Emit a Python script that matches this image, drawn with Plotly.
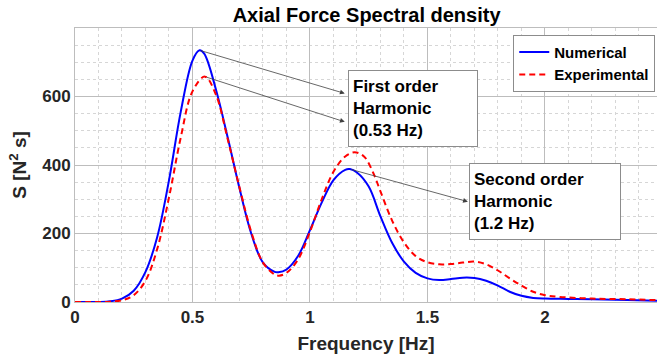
import plotly.graph_objects as go

# Numerical spectrum (blue)
freq_num = [0.00, 0.05, 0.10, 0.15, 0.20, 0.25, 0.30, 0.35, 0.40, 0.45, 0.50, 0.53,
            0.55, 0.60, 0.65, 0.70, 0.75, 0.80, 0.85, 0.865, 0.90, 0.95, 1.00, 1.05,
            1.10, 1.15, 1.17, 1.20, 1.25, 1.30, 1.35, 1.40, 1.45, 1.50, 1.55, 1.60,
            1.65, 1.70, 1.75, 1.80, 1.85, 1.90, 1.95, 2.00, 2.10, 2.20, 2.35, 2.50]
s_num = [0, 0, 0, 2, 10, 33, 88, 190, 355, 555, 705, 735,
         725, 620, 480, 332, 200, 115, 88, 87, 95, 135, 210, 290,
         356, 386, 388, 378, 337, 250, 172, 118, 85, 69, 64, 67,
         71, 70, 62, 48, 30, 18, 12, 10, 9, 8, 6, 3]

# Experimental spectrum (red dashed)
freq_exp = [0.00, 0.05, 0.10, 0.15, 0.20, 0.25, 0.30, 0.35, 0.40, 0.45, 0.50, 0.553,
            0.60, 0.65, 0.70, 0.75, 0.80, 0.85, 0.868, 0.90, 0.95, 1.00, 1.05, 1.10,
            1.15, 1.19, 1.23, 1.27, 1.30, 1.35, 1.40, 1.45, 1.50, 1.55, 1.60, 1.65,
            1.70, 1.75, 1.80, 1.85, 1.90, 1.95, 2.00, 2.06, 2.20, 2.35, 2.50]
s_exp = [0, 0, 0, 1, 5, 20, 62, 155, 305, 480, 615, 658,
         605, 475, 335, 205, 115, 80, 77, 85, 125, 205, 300, 380,
         425, 437, 425, 376, 323, 237, 174, 134, 116, 110, 111, 115,
         118, 110, 92, 69, 48, 30, 20, 15, 10, 8, 5]

x_ticks = [0, 0.5, 1, 1.5, 2]
x_tick_text = ["0", "0.5", "1", "1.5", "2"]
y_ticks = [0, 200, 400, 600]
y_tick_text = ["0", "200", "400", "600"]

FONT = "Liberation Sans, Arial, sans-serif"
TXT = "#262626"

fig = go.Figure()
fig.add_trace(go.Scatter(x=freq_num, y=s_num, mode="lines", name="<b>Numerical</b>",
                         line=dict(color="#0000FF", width=2, shape="spline", smoothing=1.0)))
fig.add_trace(go.Scatter(x=freq_exp, y=s_exp, mode="lines", name="<b>Experimental</b>",
                         line=dict(color="#FF0000", width=2, dash="6px,4px",
                                   shape="spline", smoothing=1.0)))

# harmonic callouts: arrows run from each spectral peak to its label box
i1n = s_num.index(max(s_num))
i1e = s_exp.index(max(s_exp))
i2n = freq_num.index(1.17)
peak1_num = (freq_num[i1n], s_num[i1n])
peak1_exp = (freq_exp[i1e], s_exp[i1e])
peak2_num = (freq_num[i2n], s_num[i2n])

arrow_style = dict(showarrow=True, arrowhead=2, arrowsize=1.2, arrowwidth=0.8,
                   arrowcolor="#404040", text="", axref="x", ayref="y",
                   xref="x", yref="y", standoff=0, startstandoff=0)
fig.add_annotation(x=1.148, y=609, ax=peak1_num[0], ay=peak1_num[1], **arrow_style)
fig.add_annotation(x=1.148, y=526, ax=peak1_exp[0], ay=peak1_exp[1], **arrow_style)
fig.add_annotation(x=1.672, y=293, ax=peak2_num[0], ay=peak2_num[1], **arrow_style)

box_style = dict(showarrow=False, xref="x", yref="y", xanchor="left", yanchor="top",
                 align="left", bgcolor="white", bordercolor="#8c8c8c", borderwidth=1,
                 borderpad=4, font=dict(family=FONT, size=17, color="black"))
fig.add_annotation(x=1.16, y=676,
                   text="<b>First order<br>Harmonic<br>(0.53 Hz)</b>",
                   width=120, height=67, **box_style)
fig.add_annotation(x=1.678, y=405,
                   text="<b>Second order<br>Harmonic<br>(1.2 Hz)</b>",
                   width=142, height=67, **box_style)

fig.update_layout(
    width=657, height=363,
    margin=dict(l=75, r=0, t=28, b=61),
    paper_bgcolor="white", plot_bgcolor="white",
    title=dict(text="<b>Axial Force Spectral density</b>", x=0.558, xanchor="center",
               y=0.96, yanchor="middle", font=dict(family=FONT, size=20, color="black")),
    legend=dict(x=0.997, y=0.975, xanchor="right", yanchor="top",
                bgcolor="white", bordercolor="#8c8c8c", borderwidth=1,
                font=dict(family=FONT, size=15, color="black"),
                tracegroupgap=0, itemwidth=30),
    showlegend=True,
)

fig.update_xaxes(range=[0, 2.477], tickvals=x_ticks, ticktext=["<b>%s</b>" % t for t in x_tick_text],
                 tickfont=dict(family=FONT, size=17, color=TXT),
                 title=dict(text="<b>Frequency [Hz]</b>", font=dict(family=FONT, size=19, color=TXT),
                            standoff=10),
                 showgrid=True, gridcolor="#bdbdbd", gridwidth=1,
                 minor=dict(dtick=0.1, showgrid=True, gridcolor="#d6d6d6", griddash="dot"),
                 showline=True, linecolor="#bdbdbd", mirror=True, zeroline=False, ticks="")
fig.update_yaxes(range=[0, 800], tickvals=y_ticks, ticktext=["<b>%s</b>" % t for t in y_tick_text],
                 tickfont=dict(family=FONT, size=17, color=TXT),
                 title=dict(text="<b>S [N<sup>2</sup> s]</b>", font=dict(family=FONT, size=19, color=TXT),
                            standoff=10),
                 showgrid=True, gridcolor="#bdbdbd", gridwidth=1,
                 minor=dict(dtick=50, showgrid=True, gridcolor="#d6d6d6", griddash="dot"),
                 showline=True, linecolor="#bdbdbd", mirror=True, zeroline=False, ticks="")

fig.write_html("out.html")
